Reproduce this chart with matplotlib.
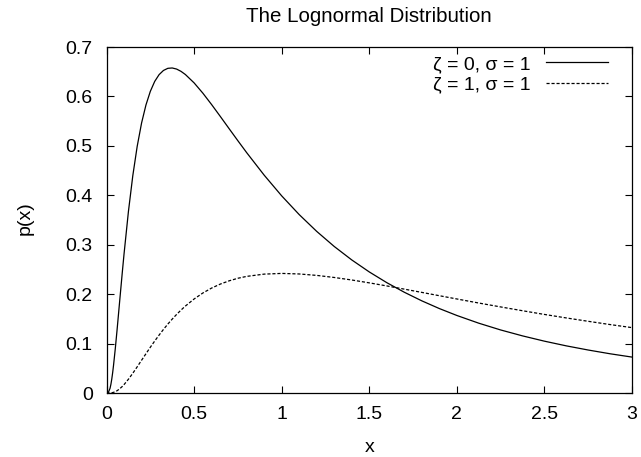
import matplotlib
matplotlib.use("Agg")
import matplotlib.pyplot as plt

plt.rcParams['font.family'] = ['Liberation Sans', 'DejaVu Sans']

# sampled curve values
x_vals = [0.0, 0.01, 0.02, 0.025, 0.03, 0.035, 0.04, 0.05, 0.06, 0.075, 0.09, 0.1,
          0.125, 0.15, 0.175, 0.2, 0.225, 0.25, 0.275, 0.3, 0.325, 0.35, 0.375,
          0.4, 0.425, 0.45, 0.5, 0.55, 0.6, 0.65, 0.7, 0.75, 0.8, 0.9, 1.0, 1.1,
          1.2, 1.3, 1.4, 1.5, 1.6, 1.7, 1.8, 1.9, 2.0, 2.125, 2.25, 2.375, 2.5,
          2.625, 2.75, 2.875, 3.0]
p_zeta0 = [0.0, 0.0010, 0.0095, 0.0177, 0.0284, 0.0413, 0.0562, 0.0898, 0.1271,
           0.1859, 0.2442, 0.2816, 0.3674, 0.4399, 0.4991, 0.5463, 0.5828, 0.6104,
           0.6305, 0.6442, 0.6527, 0.6570, 0.6577, 0.6555, 0.6509, 0.6445, 0.6275,
           0.6067, 0.5836, 0.5594, 0.5348, 0.5104, 0.4864, 0.4408, 0.3989, 0.3610,
           0.3270, 0.2965, 0.2693, 0.2450, 0.2233, 0.2039, 0.1865, 0.1709, 0.1569,
           0.1413, 0.1276, 0.1156, 0.1049, 0.0954, 0.0870, 0.0794, 0.0727]
p_zeta1 = [0.0, 0.0, 0.0001, 0.0003, 0.0005, 0.0009, 0.0014, 0.0027, 0.0046,
           0.0085, 0.0133, 0.0171, 0.0279, 0.0400, 0.0530, 0.0663, 0.0795, 0.0926,
           0.1052, 0.1172, 0.1287, 0.1395, 0.1496, 0.1590, 0.1678, 0.1759, 0.1903,
           0.2024, 0.2124, 0.2205, 0.2270, 0.2322, 0.2360, 0.2406, 0.2420, 0.2409,
           0.2380, 0.2338, 0.2287, 0.2229, 0.2167, 0.2102, 0.2036, 0.1969, 0.1903,
           0.1821, 0.1742, 0.1665, 0.1590, 0.1519, 0.1451, 0.1385, 0.1323]
labels = ["\u03b6 = 0, \u03c3 = 1", "\u03b6 = 1, \u03c3 = 1"]
x_ticks = [0, 0.5, 1, 1.5, 2, 2.5, 3]
x_tick_labels = ["0", "0.5", "1", "1.5", "2", "2.5", "3"]
y_ticks = [0, 0.1, 0.2, 0.3, 0.4, 0.5, 0.6, 0.7]
y_tick_labels = ["0", "0.1", "0.2", "0.3", "0.4", "0.5", "0.6", "0.7"]

fig = plt.figure(figsize=(6.41, 4.57), dpi=100)
ax = fig.add_axes([0.1662, 0.140, 0.8198, 0.757])

ax.plot(x_vals, p_zeta0, color="black", lw=0.9, label=labels[0])
ax.plot(x_vals, p_zeta1, color="black", lw=0.9, dashes=(2.5, 1.5), label=labels[1])

ax.set_xlim(0, 3)
ax.set_ylim(0, 0.7)
ax.set_xticks(x_ticks)
ax.set_xticklabels(x_tick_labels)
ax.set_yticks(y_ticks)
ax.set_yticklabels(y_tick_labels)
ax.tick_params(direction="in", length=5, width=0.8, top=True, right=True,
               labelsize=14, colors="black")
ax.tick_params(axis="x", pad=9)
ax.tick_params(axis="y", pad=10)
for sp in ax.spines.values():
    sp.set_linewidth(0.9)

ax.set_title("The Lognormal Distribution", fontsize=14.8, pad=18)
ax.set_xlabel("x", fontsize=14)
ax.xaxis.set_label_coords(0.5, -0.1705)
ax.xaxis.label.set_verticalalignment("baseline")
ax.set_ylabel("p(x)", fontsize=14)
ax.yaxis.set_label_coords(-0.155, 0.506)
ax.yaxis.label.set_verticalalignment("center")

ax.legend(loc="upper right", bbox_to_anchor=(0.97, 0.998), frameon=False,
          markerfirst=False, fontsize=14, handlelength=3.2, handletextpad=0.8,
          labelspacing=0.15, borderaxespad=0.0)

fig.savefig("out.png", dpi=100)
